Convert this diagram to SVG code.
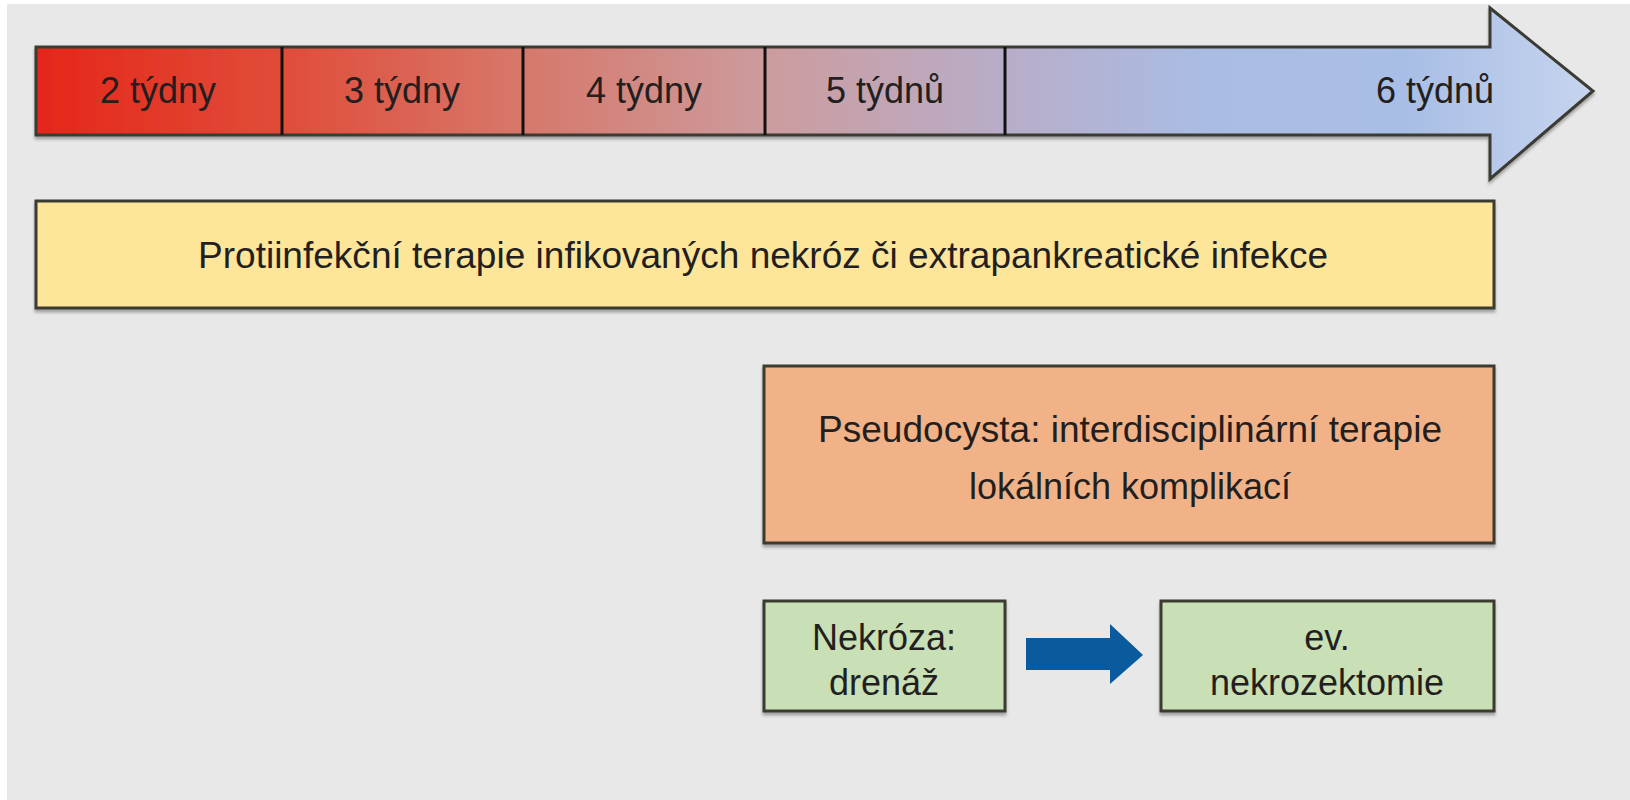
<svg xmlns="http://www.w3.org/2000/svg" width="1630" height="800" viewBox="0 0 1630 800">
<defs>
<linearGradient id="tl" gradientUnits="userSpaceOnUse" x1="36" y1="0" x2="1593" y2="0">
<stop offset="0" stop-color="#e6261a"/>
<stop offset="0.16" stop-color="#e04d39"/>
<stop offset="0.31" stop-color="#d7776a"/>
<stop offset="0.47" stop-color="#cc9c9e"/>
<stop offset="0.62" stop-color="#b8adc8"/>
<stop offset="0.75" stop-color="#aabce4"/>
<stop offset="0.88" stop-color="#a9bee6"/>
<stop offset="1" stop-color="#c6d4ee"/>
</linearGradient>
<filter id="sh" x="-5%" y="-5%" width="110%" height="120%">
<feDropShadow dx="0" dy="3" stdDeviation="1.5" flood-color="#000" flood-opacity="0.3"/>
</filter>
</defs>
<style>
.box{stroke:#3a3a30;stroke-width:3;filter:url(#sh)}
.t{font-family:"Liberation Sans",Arial,sans-serif;font-size:36px;fill:#231f20;text-anchor:middle}
.div{stroke:#111;stroke-width:3}
</style>
<rect width="1630" height="800" fill="#ffffff"/>
<rect x="7" y="4" width="1623" height="796" fill="#e8e8e8"/>

<g id="timeline">
<path class="box" d="M36 47 H1490 V8 L1593 91 L1490 179 V135 H36 Z" fill="url(#tl)"/>
<line class="div" x1="282" y1="47" x2="282" y2="135"/>
<line class="div" x1="523" y1="47" x2="523" y2="135"/>
<line class="div" x1="765" y1="47" x2="765" y2="135"/>
<line class="div" x1="1005" y1="47" x2="1005" y2="135"/>
<text class="t" x="158" y="103">2 týdny</text>
<text class="t" x="402" y="103">3 týdny</text>
<text class="t" x="644" y="103">4 týdny</text>
<text class="t" x="885" y="103">5 týdnů</text>
<text class="t" x="1494" y="103" style="text-anchor:end">6 týdnů</text>
</g>

<g id="protiinfekcni">
<rect class="box" x="36" y="201" width="1458" height="107" fill="#fde59a"/>
<text class="t" x="763" y="268" textLength="1130" lengthAdjust="spacingAndGlyphs">Protiinfekční terapie infikovaných nekróz či extrapankreatické infekce</text>
</g>

<g id="pseudocysta">
<rect class="box" x="764" y="366" width="730" height="177" fill="#f2b287"/>
<text class="t" x="1130" y="442" textLength="624" lengthAdjust="spacingAndGlyphs">Pseudocysta: interdisciplinární terapie</text>
<text class="t" x="1130" y="499">lokálních komplikací</text>
</g>

<g id="nekroza">
<rect class="box" x="764" y="601" width="241" height="110" fill="#c9dfb5"/>
<text class="t" x="884" y="650">Nekróza:</text>
<text class="t" x="884" y="695">drenáž</text>
</g>

<g id="nekrozektomie">
<rect class="box" x="1161" y="601" width="333" height="110" fill="#c9dfb5"/>
<text class="t" x="1327" y="650">ev.</text>
<text class="t" x="1327" y="695">nekrozektomie</text>
</g>

<g id="connectors">
<path d="M1026 638 H1110 V624 L1143 655 L1110 684 V670 H1026 Z" fill="#0a5a9e"/>
</g>
</svg>
